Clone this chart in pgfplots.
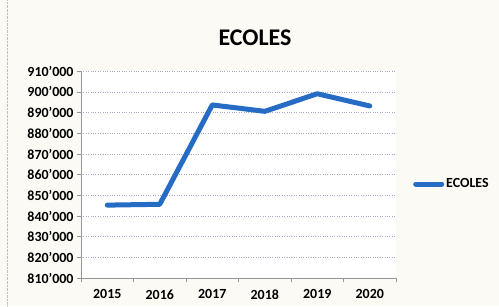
\documentclass[border=0pt]{standalone}
\usepackage{fontspec}
\setmainfont{Carlito}
\usepackage{pgfplots}
\pgfplotsset{compat=1.18}
\definecolor{lineblue}{RGB}{38,108,196}
\definecolor{gridc}{RGB}{165,170,195}
\definecolor{axc}{RGB}{150,150,150}
\definecolor{bgc}{RGB}{251,250,244}
\begin{document}
\begin{tikzpicture}[x=1bp,y=1bp]
\fill[bgc] (0,0) rectangle (499,306);
\draw[gray!50,densely dotted] (7,0) -- (7,306);
\useasboundingbox (0,0) rectangle (499,306);
\node[font=\fontsize{24}{26}\selectfont\bfseries] at (255,268) {ECOLES};
\begin{axis}[
  at={(81bp,28bp)}, anchor=south west,
  scale only axis, width=315bp, height=207bp,
  xmin=-0.5, xmax=5.5, ymin=810000, ymax=910000,
  scaled y ticks=false,
  axis background/.style={fill=white},
  axis x line*=bottom, axis y line*=left,
  axis line style={axc, line width=0.6pt},
  xtick={0,...,5}, xticklabels={2015,2016,2017,2018,2019,2020},
  minor xtick={-0.5,0.5,...,5.5},
  major x tick style={draw=none},
  minor x tick style={axc, line width=0.6pt},
  minor tick length=4bp,
  ytick={810000,820000,...,910000},
  yticklabels={810’000,820’000,830’000,840’000,850’000,860’000,870’000,880’000,890’000,900’000,910’000},
  major y tick style={axc, line width=0.6pt},
  major tick length=4bp,
  tick align=outside,
  ymajorgrids,
  grid style={gridc, dotted, line width=0.6pt},
  ticklabel style={font=\fontsize{14}{16}\selectfont\bfseries},
  xticklabel style={yshift=-4bp},
  legend style={at={(1.054,0.455)}, anchor=west, draw=none, fill=none,
    font=\fontsize{14}{16}\selectfont\bfseries, inner sep=0pt},
  legend image code/.code={\draw[#1, line cap=round] (0bp,0bp) -- (26bp,0bp);},
]
\addplot[lineblue, line width=5bp, line join=round, line cap=round] coordinates {
  (0,845300) (1,845700) (2,893700) (3,890600) (4,899100) (5,893200)
};
\addlegendentry{ECOLES}
\end{axis}
\end{tikzpicture}
\end{document}
